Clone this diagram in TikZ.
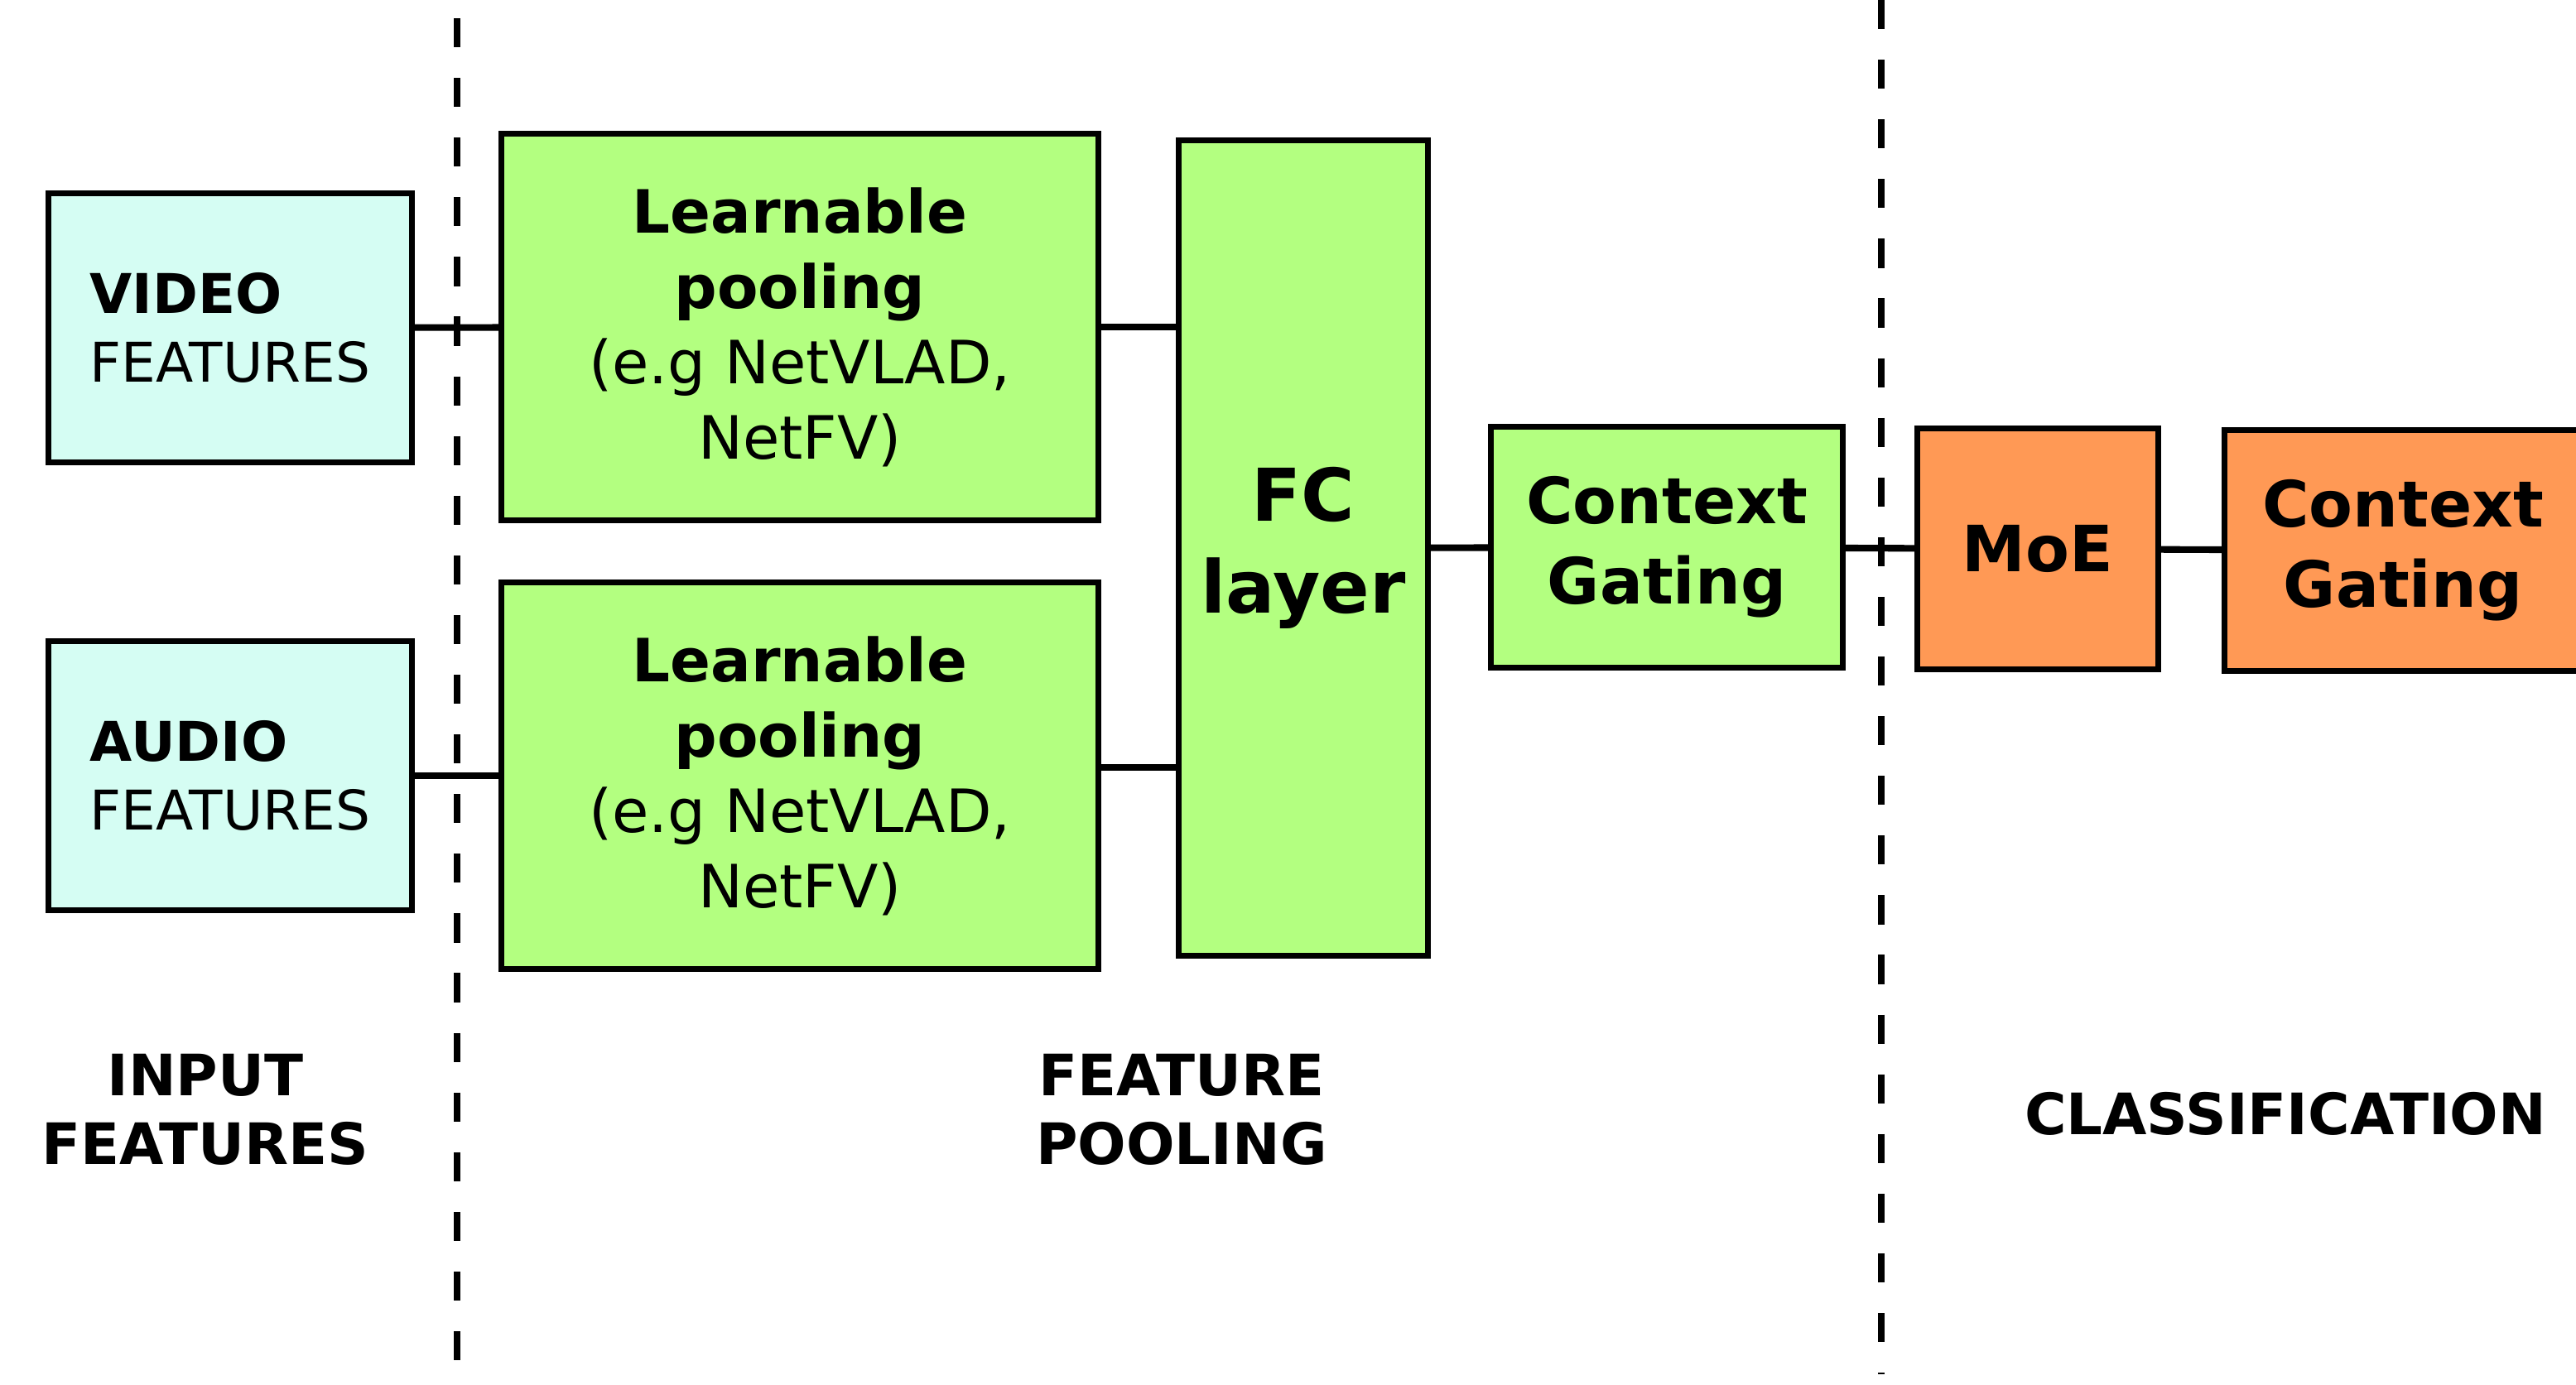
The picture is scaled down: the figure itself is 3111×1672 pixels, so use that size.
\documentclass[tikz,border=0pt]{standalone}
\usepackage{fontspec}
\setmainfont{DejaVu Sans}
\usepackage{tikz}
\definecolor{featcyan}{RGB}{213,253,243}
\definecolor{poolgreen}{RGB}{179,255,128}
\definecolor{clsorange}{RGB}{255,153,85}

\begin{document}
\begin{tikzpicture}[x=0.01cm, y=-0.01cm,
    every node/.style = {shape=rectangle, align=center, inner sep=0pt},
    box/.style = {draw, line width=2pt},
    feat/.style = {box, fill=featcyan, minimum width=4.38cm, minimum height=3.25cm,
      align=left, font=\fontsize{18.8}{23.6}\selectfont},
    pool/.style = {box, fill=poolgreen, minimum width=7.2cm, minimum height=4.66cm,
      font=\fontsize{20.5}{25.9}\selectfont},
    gate/.style = {box, minimum height=2.9cm, font=\bfseries\fontsize{21.9}{27.6}\selectfont},
    stage/.style = {font=\bfseries\fontsize{19.6}{23.6}\selectfont},
    link/.style = {line width=2.3pt},
    sep/.style = {line width=2.5pt, dash pattern=on 10pt off 10.5pt}]
  \useasboundingbox (0,0) rectangle (3111,1672);
  \draw[sep] (552,22) -- (552,1660);
  \draw[sep] (2272,0) -- (2272,1660);

  \node[feat] (video) at (278,396) {\textbf{VIDEO}\\FEATURES};
  \node[feat] (audio) at (278,937) {\textbf{AUDIO}\\FEATURES};

  \node[pool] (poolv) at (966,395) {\textbf{Learnable}\\\textbf{pooling}\\(e.g NetVLAD,\\NetFV)};
  \node[pool] (poola) at (966,937) {\textbf{Learnable}\\\textbf{pooling}\\(e.g NetVLAD,\\NetFV)};

  \node[box, fill=poolgreen, minimum width=3.01cm, minimum height=9.84cm,
    font=\bfseries\fontsize{25}{31.6}\selectfont] (fc) at (1574,662) {FC\\layer};
  \node[gate, fill=poolgreen, minimum width=4.24cm] (ctx) at (2013,661) {Context\\Gating};

  \node[gate, fill=clsorange, minimum width=2.9cm] (moe) at (2461,663) {MoE};
  \node[gate, fill=clsorange, minimum width=4.31cm] (ctxout) at (2902,665) {Context\\Gating};

  \draw[link] (video) -- (poolv);
  \draw[link] (audio) -- (poola);
  \draw[link] (poolv.east) -- (poolv.east -| fc.west);
  \draw[link] ([yshift=0.1cm]poola.east) -- ([yshift=0.1cm]poola.east -| fc.west);
  \draw[link] (fc) -- (ctx);
  \draw[link] (ctx) -- (moe);
  \draw[link] (moe) -- (ctxout);

  \node[stage] (inlabel) at (248,1340) {INPUT\\FEATURES};
  \node[stage] (poollabel) at (1427,1340) {FEATURE\\POOLING};
  \node[stage] (clslabel) at (2760,1345) {CLASSIFICATION};
\end{tikzpicture}
\end{document}
